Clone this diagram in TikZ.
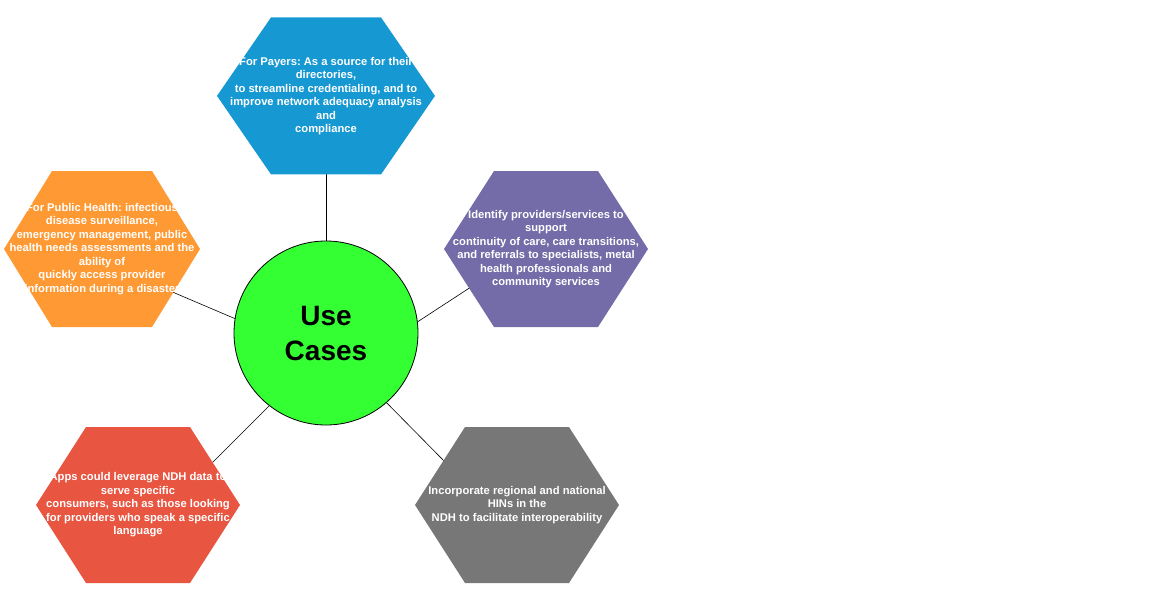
\documentclass[tikz,border=0pt]{standalone}
\usepackage{fontspec}
\setmainfont{Liberation Sans}
\frenchspacing
\usepackage{tikz}
\usetikzlibrary{positioning, backgrounds}
\definecolor{payerblue}{RGB}{22,153,211}
\definecolor{healthorange}{RGB}{255,153,51}
\definecolor{carepurple}{RGB}{115,108,168}
\definecolor{appsred}{RGB}{232,86,66}
\definecolor{hinsgray}{RGB}{119,119,119}
\definecolor{hubgreen}{RGB}{51,255,51}

\begin{document}
\begin{tikzpicture}[
    x=1pt, y=-1pt,
    hexa/.style 2 args={
        rectangle,
        inner sep=0pt,
        align=center,
        text=white,
        font=\bfseries\fontsize{11.2}{13.5}\selectfont,
        minimum width=204pt,
        minimum height=156pt,
        path picture={
            \fill[#1] (path picture bounding box.west)
                -- ([xshift=#2]path picture bounding box.north west)
                -- ([xshift=-#2]path picture bounding box.north east)
                -- (path picture bounding box.east)
                -- ([xshift=-#2]path picture bounding box.south east)
                -- ([xshift=#2]path picture bounding box.south west)
                -- cycle;
        }
    },
    hub/.style={
        circle,
        draw=black,
        line width=0.8pt,
        fill=hubgreen,
        minimum size=184pt,
        align=center,
        font=\bfseries\fontsize{28}{35}\selectfont
    },
    link/.style={draw=black, line width=0.6pt}
]
\useasboundingbox (0,0) rectangle (1150,610);

\node[hub] (usecases) at (326,333) {Use\\Cases};
\node[hexa={payerblue}{54pt}, minimum width=218pt, minimum height=157pt]
    (payers) [above=66pt of usecases] {For Payers: As a source for their\\directories,\\to streamline credentialing, and to\\improve network adequacy analysis\\and\\compliance};
\node[hexa={healthorange}{48pt}, minimum width=196pt]
    (pubhealth) at (102,249) {For Public Health: infectious\\disease surveillance,\\emergency management, public\\health needs assessments and the\\ability of\\quickly access provider\\information during a disaster};
\node[hexa={carepurple}{50pt}] (continuity) at (546,249) {Identify providers/services to\\support\\continuity of care, care transitions,\\and referrals to specialists, metal\\health professionals and\\community services};
\node[hexa={appsred}{50pt}] (apps) at (138,505) {Apps could leverage NDH data to\\serve specific\\consumers, such as those looking\\for providers who speak a specific\\language};
\node[hexa={hinsgray}{50pt}] (hins) at (517,505) {Incorporate regional and national\\HINs in the\\NDH to facilitate interoperability};

\begin{scope}[on background layer]
\draw[link] (usecases.90) -- (payers.center);
\draw[link] (usecases.171) -- ([yshift=-13pt]pubhealth.center);
\draw[link] (usecases.7) -- ([yshift=11pt]continuity.center);
\draw[link] (usecases.232) -- ([yshift=-32pt]apps.center);
\draw[link] (usecases.311) -- ([yshift=-30pt]hins.center);
\end{scope}

\end{tikzpicture}
\end{document}
